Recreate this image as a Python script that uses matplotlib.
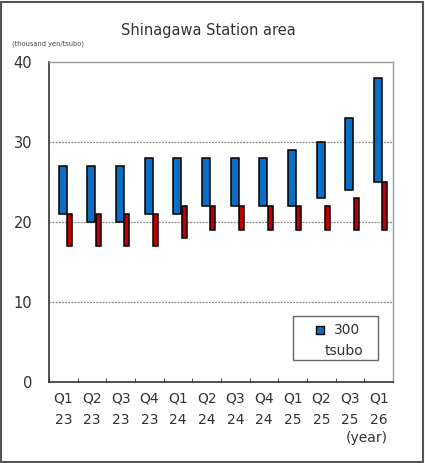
import matplotlib
matplotlib.use("Agg")
import matplotlib.pyplot as plt
import numpy as np
from matplotlib.patches import Rectangle

quarters = ["Q1", "Q2", "Q3", "Q4", "Q1", "Q2", "Q3", "Q4", "Q1", "Q2", "Q3", "Q1"]
years = ["23", "23", "23", "23", "24", "24", "24", "24", "25", "25", "25", "26"]
blue_high = [27, 27, 27, 28, 28, 28, 28, 28, 29, 30, 33, 38]
blue_low = [21, 20, 20, 21, 21, 22, 22, 22, 22, 23, 24, 25]
red_high = [21, 21, 21, 21, 22, 22, 22, 22, 22, 22, 23, 25]
red_low = [17, 17, 17, 17, 18, 19, 19, 19, 19, 19, 19, 19]
legend_label = ["300", "tsubo"]

BLUE = "#0A6FC4"
RED = "#C00000"
TXT = "#333333"

fig = plt.figure(figsize=(4.25, 4.63), dpi=100)
fig.patches.append(Rectangle((0.002, 0.002), 0.994, 0.994, transform=fig.transFigure,
                             fill=False, edgecolor="#555555", linewidth=1.5))
ax = fig.add_axes([0.1153, 0.1749, 0.8094, 0.6912])

x = np.arange(len(quarters))
bh = np.array(blue_high); bl = np.array(blue_low)
rh = np.array(red_high); rl = np.array(red_low)
ax.bar(x - 0.024, bh - bl, bottom=bl, width=0.27, color=BLUE, edgecolor="black",
       linewidth=1.1, zorder=3)
ax.bar(x + 0.218, rh - rl, bottom=rl, width=0.17, color=RED, edgecolor="black",
       linewidth=1.1, zorder=3)

ax.set_xlim(-0.5, len(quarters) - 0.5)
ax.set_ylim(0, 40)
ax.set_yticks([0, 10, 20, 30, 40])
ax.set_yticklabels(["0", "10", "20", "30", "40"], fontsize=10.5, color=TXT)
for yv in [10, 20, 30]:
    ax.axhline(yv, color="#888888", linestyle=(0, (1.5, 1)), linewidth=0.9, zorder=1)
ax.tick_params(axis="y", length=0, pad=12)

ax.set_xticks(np.arange(len(quarters) + 1) - 0.5, minor=True)
ax.set_xticks(x)
ax.set_xticklabels([f"{q}\n{y}" for q, y in zip(quarters, years)], fontsize=10,
                   color=TXT, linespacing=1.7)
ax.tick_params(axis="x", which="major", length=0, pad=7)
ax.tick_params(axis="x", which="minor", length=3, direction="in", color=TXT)

for s in ["left", "bottom"]:
    ax.spines[s].set_color(TXT)
    ax.spines[s].set_linewidth(1.2)
for s in ["top", "right"]:
    ax.spines[s].set_color("#999999")
    ax.spines[s].set_linewidth(1.0)

fig.text(0.49, 0.935, "Shinagawa Station area", ha="center", va="center",
         fontsize=10.5, color=TXT)
fig.text(0.028, 0.906, "(thousand yen/tsubo)", ha="left", va="center",
         fontsize=5.3, color="#444444", fontstretch="condensed")
fig.text(0.913, 0.054, "(year)", ha="right", va="center", fontsize=10, color=TXT)

# legend box (manual, matching reference layout)
lx0, lx1 = (293 - 49) / 344, (378 - 49) / 344
ly0, ly1 = (382 - 360) / 320, (382 - 316) / 320
ax.add_patch(Rectangle((lx0, ly0), lx1 - lx0, ly1 - ly0, transform=ax.transAxes,
                       facecolor="white", edgecolor="#666666", linewidth=1.0, zorder=5))
ax.plot([(320 - 49) / 344], [(382 - 330) / 320], marker="s", markersize=6,
        markerfacecolor=BLUE, markeredgecolor="black", markeredgewidth=1.0,
        transform=ax.transAxes, zorder=6, linestyle="none")
ax.text((347 - 49) / 344, (382 - 330) / 320, legend_label[0], transform=ax.transAxes,
        ha="center", va="center", fontsize=10, color=TXT, zorder=6)
ax.text((344 - 49) / 344, (382 - 351) / 320, legend_label[1], transform=ax.transAxes,
        ha="center", va="center", fontsize=10, color=TXT, zorder=6)

fig.savefig("out.png", dpi=100)
